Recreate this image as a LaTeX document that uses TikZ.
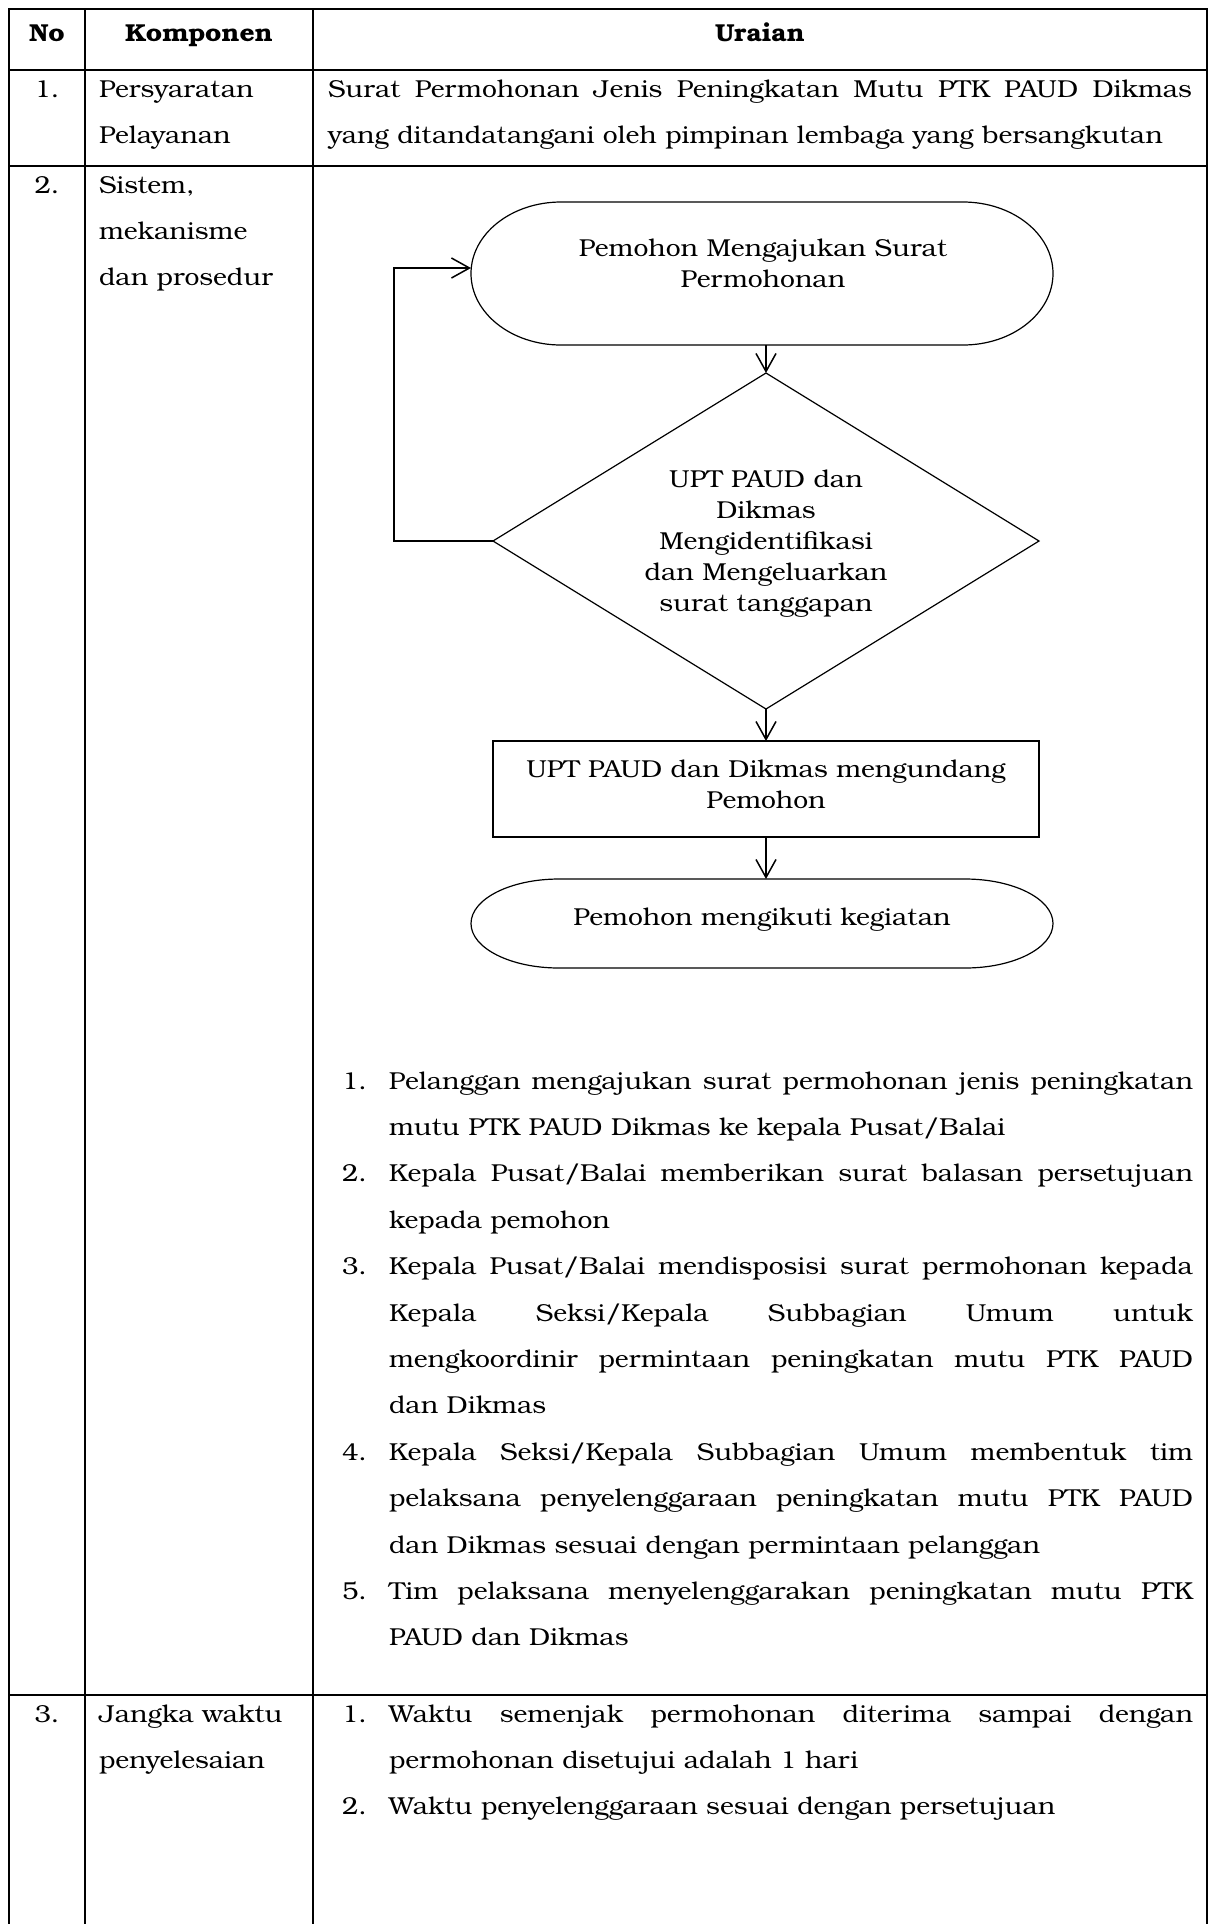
\documentclass[tikz,border=0pt]{standalone}
\usepackage{fontspec}
\setmainfont{TeX Gyre Bonum}[FakeStretch=1.08]
\usetikzlibrary{arrows.meta,shapes.geometric}

% type sizes: table body (1.5 line spacing) and flowchart labels
\newcommand\TblFont{\fontsize{12.25pt}{23.2pt}\selectfont}
\newcommand\FlowFont{\fontsize{12.25pt}{15.5pt}\selectfont}
% list helpers: number column and a fully justified line
\newcommand\ListNo[1]{\makebox[23.5pt][l]{#1}}
\newcommand\JustLine[2]{\makebox[#1][s]{#2}}

\begin{document}
\begin{tikzpicture}[x=0.5pt,y=-0.5pt,
  rule/.style={line width=0.95pt, line cap=rect},
  shp/.style={line width=0.6pt},
  arr/.style={line width=0.75pt, -{Straight Barb[length=9pt,width=10pt]}},
  cell/.style={anchor=base west, inner sep=0pt, outer sep=0pt, font=\TblFont},
  num/.style={anchor=base, inner sep=0pt, font=\TblFont},
  head/.style={anchor=base, inner sep=0pt, font=\TblFont\bfseries},
  ftxt/.style={anchor=base, inner sep=0pt, align=center, font=\FlowFont},
  frame/.style={inner sep=0pt, outer sep=0pt},
]
\fill[white] (0,0) rectangle (1209,1924);
\useasboundingbox (0,0) rectangle (1209,1924);

% table rules
\foreach \yy in {9,70,166,1695} \draw[rule] (9,\yy) -- (1207,\yy);
\foreach \xx in {9,85,313,1207} \draw[rule] (\xx,9) -- (\xx,1924);

% header
\node[head] (hno)   at (47,41)  {No};
\node[head] (hkomp) at (199,41) {Komponen};
\node[head] (hurai) at (760,41) {Uraian};

% row 1
\node[num]  (n1) at (47,97) {1.};
\node[cell] (k1) at (99,97) {\parbox[t]{105pt}{Persyaratan\\Pelayanan}};
\node[cell] (u1) at (328,97) {\parbox[t]{432pt}{%
  \JustLine{432pt}{Surat Permohonan Jenis Peningkatan Mutu PTK PAUD Dikmas}\\
  yang ditandatangani oleh pimpinan lembaga yang bersangkutan}};

% row 2
\node[num]  (n2) at (47,193) {2.};
\node[cell] (k2) at (99,193) {\parbox[t]{105pt}{Sistem,\\mekanisme\\dan prosedur}};

% flowchart: start terminator (label anchored on its last baseline)
\node[frame, minimum width=291pt, minimum height=71.5pt] (s1) at (762,273.5) {};
\draw[shp] ([xshift=45pt]s1.north west) -- ([xshift=-45pt]s1.north east)
  arc[start angle=90, end angle=-90, x radius=45pt, y radius=35.75pt]
  -- ([xshift=45pt]s1.south west)
  arc[start angle=270, end angle=90, x radius=45pt, y radius=35.75pt] -- cycle;
\node[ftxt] (t1) at (763,287) {Pemohon Mengajukan Surat\\Permohonan};

% decision
\node[draw, shp, diamond, frame, minimum width=273pt, minimum height=168pt] (dia) at (766,541) {};
\node[ftxt] (td) at (766,611) {UPT PAUD dan\\Dikmas\\Mengidentifikasi\\dan Mengeluarkan\\surat tanggapan};

% process
\node[draw, shp, frame, minimum width=273pt, minimum height=48pt] (rb) at (766,789) {};
\node[ftxt] (tr) at (766,808) {UPT PAUD dan Dikmas mengundang\\Pemohon};

% end terminator
\node[frame, minimum width=291pt, minimum height=44.5pt] (s2) at (762,923.5) {};
\draw[shp] ([xshift=44pt]s2.north west) -- ([xshift=-44pt]s2.north east)
  arc[start angle=90, end angle=-90, x radius=44pt, y radius=22.25pt]
  -- ([xshift=44pt]s2.south west)
  arc[start angle=270, end angle=90, x radius=44pt, y radius=22.25pt] -- cycle;
\node[ftxt] (t2) at (762,925) {Pemohon mengikuti kegiatan};

% connectors
\coordinate (lp) at (394,268);
\draw[arr] (s1.south -| dia.north) -- (dia.north);
\draw[arr] (dia.south) -- (rb.north);
\draw[arr] (rb.south) -- (s2.north -| rb.south);
\draw[arr] (dia.west) -| (lp) -- (s1.west |- lp);

% procedure list
\node[cell] (lst2) at (342,1089) {\parbox[t]{425.5pt}{%
  \ListNo{1.}\JustLine{402pt}{Pelanggan mengajukan surat permohonan jenis peningkatan}\\
  \ListNo{}mutu PTK PAUD Dikmas ke kepala Pusat/Balai\\
  \ListNo{2.}\JustLine{402pt}{Kepala Pusat/Balai memberikan surat balasan persetujuan}\\
  \ListNo{}kepada pemohon\\
  \ListNo{3.}\JustLine{402pt}{Kepala Pusat/Balai mendisposisi surat permohonan kepada}\\
  \ListNo{}\JustLine{402pt}{Kepala Seksi/Kepala Subbagian Umum untuk}\\
  \ListNo{}\JustLine{402pt}{mengkoordinir permintaan peningkatan mutu PTK PAUD}\\
  \ListNo{}dan Dikmas\\
  \ListNo{4.}\JustLine{402pt}{Kepala Seksi/Kepala Subbagian Umum membentuk tim}\\
  \ListNo{}\JustLine{402pt}{pelaksana penyelenggaraan peningkatan mutu PTK PAUD}\\
  \ListNo{}dan Dikmas sesuai dengan permintaan pelanggan\\
  \ListNo{5.}\JustLine{402pt}{Tim pelaksana menyelenggarakan peningkatan mutu PTK}\\
  \ListNo{}PAUD dan Dikmas}};

% row 3
\node[num]  (n3) at (47,1722) {3.};
\node[cell] (k3) at (99,1722) {\parbox[t]{105pt}{Jangka waktu\\penyelesaian}};
\node[cell] (lst3) at (342,1722) {\parbox[t]{425.5pt}{%
  \ListNo{1.}\JustLine{402pt}{Waktu semenjak permohonan diterima sampai dengan}\\
  \ListNo{}permohonan disetujui adalah 1 hari\\
  \ListNo{2.}Waktu penyelenggaraan sesuai dengan persetujuan}};
\end{tikzpicture}
\end{document}
